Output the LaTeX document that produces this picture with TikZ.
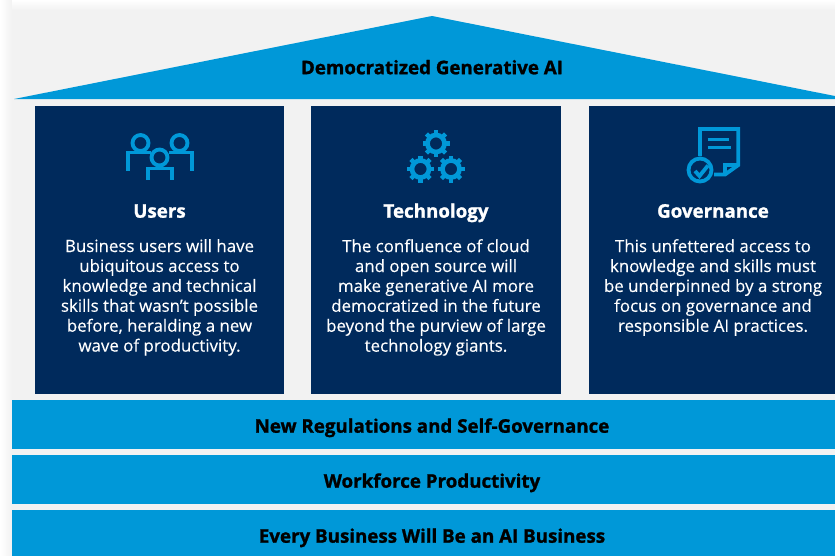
\documentclass[tikz,border=0pt]{standalone}
\usepackage{fontspec}
\setmainfont[FakeBold=0.25,BoldFeatures={FakeBold=1.2}]{Open Sans}
\usepackage{tikz}
\usetikzlibrary{positioning}
\definecolor{navy}{HTML}{002A5C}
\definecolor{sky}{HTML}{0098D8}
\definecolor{paper}{HTML}{F2F2F2}
\tikzset{pillar/.style={fill=navy,minimum width=7.47cm,minimum height=8.64cm,inner sep=0pt}}
\tikzset{band/.style={fill=sky,minimum width=25.2cm,minimum height=1.47cm,inner sep=0pt,text height=14pt,text depth=0pt,font=\fontsize{16}{19}\selectfont\bfseries,text=black}}
\tikzset{heading/.style={text=white,text height=12pt,text depth=4pt,inner sep=0pt,font=\fontsize{16}{19}\selectfont\bfseries}}
\tikzset{body/.style={text=white,align=center,inner sep=0pt,font=\fontsize{14.4}{17}\selectfont}}

\begin{document}
\begin{tikzpicture}[x=0.03cm,y=-0.03cm]
\tikzset{icon/.style={draw=sky,line width=0.115cm}}
\useasboundingbox (0,0) rectangle (835,555);
\fill[paper] (0,0) rectangle (835,555);
\shade[left color=white,right color=paper] (0,0) rectangle (12,555);
\shade[top color=white,bottom color=paper] (12,0) rectangle (835,10);

\pgfmathsetmacro{\left}{159.5}
\pgfmathsetmacro{\center}{436}
\pgfmathsetmacro{\right}{713}

% roof
\fill[sky] (14,99) -- (432,16) -- (850,99) -- cycle;
\node[text height=14pt,text depth=0pt,font=\fontsize{16}{19}\selectfont\bfseries] (title) at (432,66) {Democratized Generative AI};

% pillars
\node[pillar] (users) at (\left,250) {};
\node[pillar] (tech) at (\center,250) {};
\node[pillar] (gov) at (\right,250) {};

\node[heading] (usershead) at (\left,213) {Users};
\node[heading] (techhead) at (\center,213) {Technology};
\node[heading] (govhead) at (\right,213) {Governance};

\node[body,below=0.49cm of usershead] (userstext) {Business users will have\\ubiquitous access to\\knowledge and technical\\skills that wasn't possible\\before, heralding a new\\wave of productivity.};
\node[body,below=0.49cm of techhead] (techtext) {The confluence of cloud\\and open source will\\make generative AI more\\democratized in the future\\beyond the purview of large\\technology giants.};
\node[body,below=0.49cm of govhead] (govtext) {This unfettered access to\\knowledge and skills must\\be underpinned by a strong\\focus on governance and\\responsible AI practices.};

% bands
\node[band] (regs) at (432,424.5) {New Regulations and Self-Governance};
\node[band] (work) at (432,479.5) {Workforce Productivity};
\node[band] (every) at (432,534.5) {Every Business Will Be an AI Business};

% users icon
\draw[icon] (140.5,143) circle (8);
\draw[icon] (179.5,143) circle (8);
\draw[icon] (159.5,157.5) circle (8);
\draw[icon] (128.3,171) -- (128.3,152.5) -- (151,152.5);
\draw[icon] (169,152.5) -- (192,152.5) -- (192,171);
\draw[icon] (148,180) -- (148,168.5) -- (172,168.5) -- (172,180);

% gear icon
\foreach \gx/\gy in {436/143.5, 420.5/169, 451/169} {
  \foreach \ang in {0,45,...,315} {
    \fill[sky,rotate around={\ang:(\gx,\gy)}] (\gx-2.2,\gy-13.5) rectangle (\gx+2.2,\gy-8);
  }
  \draw[sky,line width=0.14cm] (\gx,\gy) circle (8.5);
}

% document icon
\draw[icon] (700,156) -- (700,129) -- (738.3,129) -- (738.3,165) -- (725,174.5) -- (714,174.5);
\draw[icon] (725,174.5) -- (725,165) -- (738.3,165);
\draw[icon] (707.5,139.5) -- (728.5,139.5);
\draw[icon] (707.5,147.5) -- (731,147.5);
\draw[icon] (700,170) circle (11.5);
\draw[icon] (695,171) -- (699.5,176) -- (708,165.5);
\end{tikzpicture}
\end{document}
